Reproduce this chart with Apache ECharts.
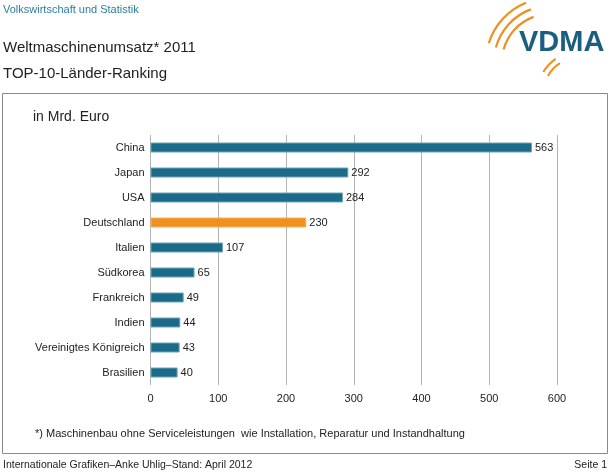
<!DOCTYPE html>
<html><head><meta charset="utf-8">
<script src="https://cdn.jsdelivr.net/npm/echarts@6/dist/echarts.min.js"></script>
<style>html,body{margin:0;padding:0;background:#fff}#c{width:610px;height:473px}</style>
</head><body><div id="c"></div>
<script>
const categories = ["China","Japan","USA","Deutschland","Italien","Südkorea","Frankreich","Indien","Vereinigtes Königreich","Brasilien"];
const values = [563,292,284,230,107,65,49,44,43,40];
const highlight = "Deutschland";
const xTicks = [0,100,200,300,400,500,600];

const F = "'Liberation Sans', Arial, sans-serif";
const chart = echarts.init(document.getElementById('c'), null, {renderer:'canvas'});
const teal = '#1b6a87', orange = '#ef9020';
function arc(cx,cy,r,a0,a1,w){return {type:'arc',shape:{cx:cx,cy:cy,r:r,startAngle:a0*Math.PI/180,endAngle:a1*Math.PI/180},style:{stroke:orange,lineWidth:w,fill:null}};}
chart.setOption({
  animation:false,
  textStyle:{fontFamily:F},
  grid:{left:150.5,right:53,top:135,height:250,containLabel:false},
  xAxis:{type:'value',min:xTicks[0],max:xTicks[xTicks.length-1],interval:100,
    axisLine:{show:false},axisTick:{show:false},
    splitLine:{show:true,lineStyle:{color:'#b4b4b4',width:1}},
    axisLabel:{color:'#222',fontSize:11,margin:8,fontFamily:F}},
  yAxis:{type:'category',data:categories,inverse:true,
    axisLine:{show:false},axisTick:{show:false},
    axisLabel:{color:'#222',fontSize:11,margin:6,fontFamily:F}},
  series:[{type:'bar',barWidth:10,
    data:values.map((v,i)=>({value:v,itemStyle:{color:categories[i]===highlight?orange:teal,borderColor:categories[i]===highlight?'#f5b060':'#6aa5bb',borderWidth:1}})),
    label:{show:true,position:'right',distance:3,color:'#222',fontSize:11,fontFamily:F}}],
  graphic:[
    {type:'rect',shape:{x:2.5,y:93.5,width:605,height:360},style:{fill:null,stroke:'#8a8a8a',lineWidth:1}},
    {type:'text',left:3,top:4,style:{text:'Volkswirtschaft und Statistik',fill:'#2a7f9c',fontSize:11,fontFamily:F}},
    {type:'text',left:3,top:40,style:{text:'Weltmaschinenumsatz* 2011',fill:'#222',fontSize:15,fontFamily:F}},
    {type:'text',left:3,top:66,style:{text:'TOP-10-Länder-Ranking',fill:'#222',fontSize:15,fontFamily:F}},
    {type:'text',left:33,top:110,style:{text:'in Mrd. Euro',fill:'#222',fontSize:14,fontFamily:F}},
    {type:'text',left:35,top:428,style:{text:'*) Maschinenbau ohne Serviceleistungen  wie Installation, Reparatur und Instandhaltung',fill:'#222',fontSize:11,fontFamily:F}},
    {type:'text',left:3,top:460,style:{text:'Internationale Grafiken–Anke Uhlig–Stand: April 2012',fill:'#222',fontSize:10.5,fontFamily:F}},
    {type:'text',right:3,top:460,style:{text:'Seite 1',fill:'#222',fontSize:10.5,fontFamily:F,align:'right'}},
    {type:'text',left:519,top:28,style:{text:'VDMA',fill:'#1a5f80',fontSize:29,fontWeight:'bold',fontFamily:F}},
    arc(550,62,48,195,250,2.2),
    arc(550,62,56,195,250,2.2),
    arc(550,62,64,197,248,2.2),
    arc(578,92,34,208,238,2),
    arc(578,92,40,210,236,2)
  ]
});
</script></body></html>
